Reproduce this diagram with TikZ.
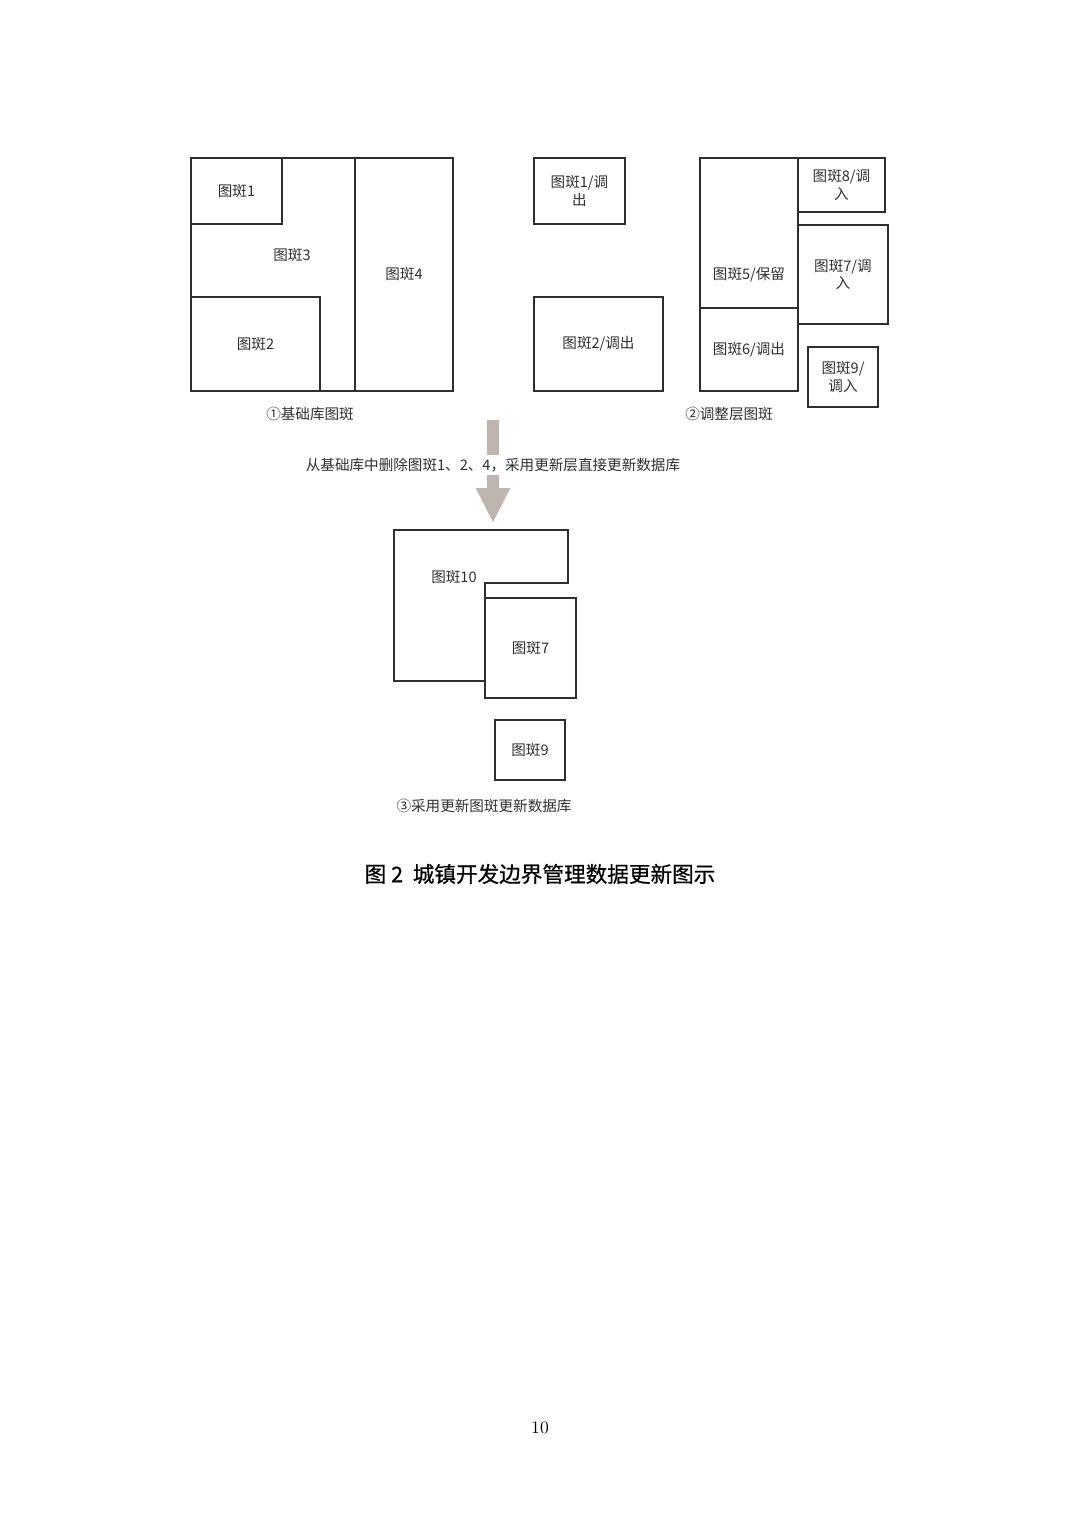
\documentclass[tikz,border=0pt]{standalone}
\usepackage{fontspec}
\usepackage{xcolor}
\usepackage{tikz}
\usetikzlibrary{arrows.meta,positioning}
\newfontfamily\cjk{Noto Sans CJK SC}
\newfontfamily\cjktitle[FakeBold=0.6]{Noto Sans CJK SC}
\definecolor{edgegray}{RGB}{45,48,51}
\definecolor{flowgray}{RGB}{190,181,176}

\begin{document}
\begin{tikzpicture}[
  x=0.02cm, y=-0.02cm,
  patch/.style 2 args={draw=edgegray, line width=1.1pt, inner sep=0pt, outer sep=0pt,
    minimum width=#1*0.02cm, minimum height=#2*0.02cm, align=center,
    font=\cjk\fontsize{8.3}{9.8}\selectfont, text=edgegray},
  thinpoly/.style={draw=edgegray, line width=0.85pt},
  lbl/.style={font=\cjk\fontsize{8.3}{9.8}\selectfont, text=edgegray, inner sep=1pt},
  flow/.style={-{Triangle[width=32*0.02cm, length=35*0.02cm]}, draw=flowgray, line width=12*0.02cm},
]
\useasboundingbox (0,0) rectangle (1080,1527);

% (1) base layer
\draw[thinpoly] (191,158) -- (355,158) -- (355,391) -- (320,391) -- (320,297) -- (191,297) -- cycle;
\node[lbl] (t3) at (292,255) {图斑3};
\node[patch={91}{66}, fill=white] (p1) at (236.5,191) {图斑1};
\node[patch={129}{94}] (p2) at (255.5,344) {图斑2};
\node[patch={98}{233}] (p4) at (404,274.5) {图斑4};
\node[lbl] (cap1) at (310,414) {①基础库图斑};

% (2) adjustment layer
\node[patch={91}{66}] (q1) at (579.5,191) {图斑1/调\\出};
\node[patch={129}{94}] (q2) at (598.5,344) {图斑2/调出};
\node[patch={98}{150}] (q5) at (749,233) {};
\node[lbl] (t5) at (749,275) {图斑5/保留};
\node[patch={98}{83}] (q6) at (749,349.5) {图斑6/调出};
\node[patch={87}{54}] (q8) at (841.5,185) {图斑8/调\\入};
\node[patch={90}{99}] (q7) at (843,274.5) {图斑7/调\\入};
\node[patch={70}{60}] (q9) at (843,377) {图斑9/\\调入};
\node[lbl] (cap2) at (729,414) {②调整层图斑};

% update step
\coordinate (flowtop) at (493,420);
\coordinate (flowtip) at (493,523);
\draw[flow] (flowtop) -- (flowtip);
\node[lbl, fill=white, inner xsep=3pt, inner ysep=1.5pt] (step) at (493,465) {从基础库中删除图斑1、2、4，采用更新层直接更新数据库};

% (3) updated database
\draw[thinpoly, line width=1pt] (394,530) -- (568,530) -- (568,583) -- (485,583) -- (485,681) -- (394,681) -- cycle;
\node[lbl] (t10) at (454,577) {图斑10};
\node[patch={91}{100}, fill=white] (r7) at (530.5,648) {图斑7};
\node[patch={70}{60}] (r9) at (530,750) {图斑9};
\node[lbl] (cap3) at (484,806) {③采用更新图斑更新数据库};

\node[font=\cjktitle\fontsize{12.3}{14}\selectfont, text=black] (title) at (540,874) {图 2\ \ 城镇开发边界管理数据更新图示};
\node[font=\fontsize{10}{12}\selectfont] (page) at (540,1428) {10};
\end{tikzpicture}
\end{document}
